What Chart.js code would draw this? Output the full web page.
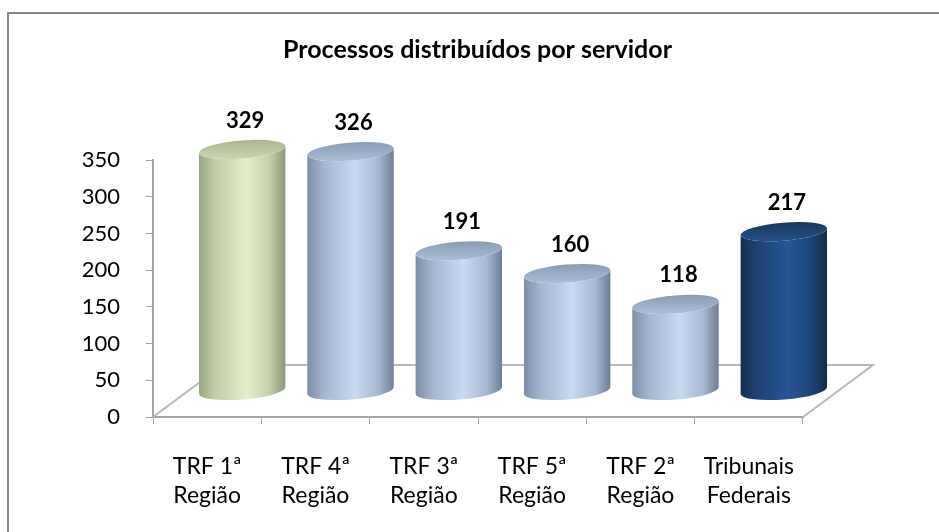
<!DOCTYPE html>
<html>
<head>
<meta charset="utf-8">
<script src="https://cdn.jsdelivr.net/npm/chart.js@4/dist/chart.umd.min.js"></script>
<style>
html,body{margin:0;padding:0;background:#fff;}
canvas{display:block;}
</style>
</head>
<body>
<canvas id="c" width="939" height="532"></canvas>
<script>
const titleText = 'Processos distribuídos por servidor';
const categories = [['TRF 1ª','Região'],['TRF 4ª','Região'],['TRF 3ª','Região'],['TRF 5ª','Região'],['TRF 2ª','Região'],['Tribunais','Federais']];
const values = [329, 326, 191, 160, 118, 217];
const yTicks = [0, 50, 100, 150, 200, 250, 300, 350];

const palettes = {
  green: {body:['#99a57f','#c1cda6','#e3efca','#c4d0aa','#8b9674'], top:['#aab78e','#c9d5ae']},
  light: {body:['#7c8da8','#a1b3cd','#c8dbf3','#a7b9d2','#6c7c95'], top:['#8a9db8','#aabdd7']},
  dark:  {body:['#132e4e','#1c4272','#265596','#1d4477','#112a48'], top:['#1a375d','#25508a']}
};
const barPalette = ['green','light','light','light','light','dark'];

const DEPTH_X = 70, DEPTH_Y = -52;
const AXIS_GRAY = '#a6a6a6';

const cylPlugin = {
  id: 'cyl',
  beforeDraw(chart) {
    const ctx = chart.ctx;
    ctx.save();
    ctx.strokeStyle = '#868686';
    ctx.lineWidth = 2;
    ctx.strokeRect(8, 13, 1200, 1200);
    ctx.restore();
  },
  beforeDatasetsDraw(chart) {
    const ctx = chart.ctx;
    const a = chart.chartArea;
    const y0 = chart.scales.y.getPixelForValue(0);
    ctx.save();
    ctx.strokeStyle = '#b8b8b8';
    ctx.lineWidth = 2;
    ctx.beginPath();
    ctx.moveTo(a.left, y0);
    ctx.lineTo(a.left + DEPTH_X, y0 + DEPTH_Y);
    ctx.lineTo(a.right + DEPTH_X, y0 + DEPTH_Y);
    ctx.lineTo(a.right, y0);
    ctx.stroke();
    ctx.restore();
  },
  afterDatasetsDraw(chart) {
    const ctx = chart.ctx;
    const meta = chart.getDatasetMeta(0);
    const hx = DEPTH_X / 2, hy = DEPTH_Y / 2;
    const ry = 9, rot = -0.08;
    meta.data.forEach((bar, i) => {
      const p = bar.getProps(['x','y','base','width'], true);
      const pal = palettes[barPalette[i]];
      const cx = p.x + hx, topY = p.y + hy, baseY = p.base + hy, rx = p.width / 2;
      ctx.save();
      const g = ctx.createLinearGradient(cx - rx, 0, cx + rx, 0);
      const st = [0, 0.18, 0.55, 0.82, 1];
      st.forEach((s, k) => g.addColorStop(s, pal.body[k]));
      ctx.fillStyle = g;
      ctx.beginPath();
      const ca = Math.cos(rot), sa = Math.sin(rot);
      ctx.moveTo(cx + rx * ca, topY + rx * sa);
      ctx.lineTo(cx + rx * ca, baseY + rx * sa);
      ctx.ellipse(cx, baseY, rx, ry, rot, 0, Math.PI, false);
      ctx.lineTo(cx - rx * ca, topY - rx * sa);
      ctx.ellipse(cx, topY, rx, ry, rot, Math.PI, 0, true);
      ctx.closePath();
      ctx.fill();
      const tg = ctx.createLinearGradient(0, topY - ry, 0, topY + ry);
      tg.addColorStop(0, pal.top[0]);
      tg.addColorStop(1, pal.top[1]);
      ctx.fillStyle = tg;
      ctx.beginPath();
      ctx.ellipse(cx, topY, rx, ry, rot, 0, Math.PI * 2);
      ctx.fill();
      ctx.fillStyle = '#000';
      ctx.font = 'bold 22px Lato';
      ctx.textAlign = 'center';
      ctx.textBaseline = 'middle';
      ctx.fillText(String(values[i]), cx + 3, topY - 29);
      ctx.restore();
    });
  }
};

new Chart(document.getElementById('c'), {
  type: 'bar',
  data: {
    labels: categories,
    datasets: [{
      data: values,
      backgroundColor: 'rgba(0,0,0,0)',
      borderWidth: 0,
      barPercentage: 0.8,
      categoryPercentage: 1.0
    }]
  },
  options: {
    responsive: false,
    animation: false,
    devicePixelRatio: 1,
    layout: {padding: {top: 13, left: 16, right: 0, bottom: 0}},
    plugins: {
      legend: {display: false},
      tooltip: {enabled: false},
      title: {
        display: true,
        text: titleText,
        color: '#000',
        font: {family: 'Lato', size: 25, weight: 'bold', lineHeight: 1.2},
        padding: {top: 22, bottom: 95}
      }
    },
    scales: {
      x: {
        grid: {display: true, drawOnChartArea: false, drawTicks: true, tickLength: 7, color: AXIS_GRAY, offset: true},
        border: {display: true, color: AXIS_GRAY, width: 2},
        ticks: {color: '#000', font: {family: 'Lato', size: 23, lineHeight: 1.22}, padding: 29, maxRotation: 0, autoSkip: false},
        afterFit(s) { s.height = 115; }
      },
      y: {
        min: 0, max: 350,
        afterBuildTicks(s) { s.ticks = yTicks.map(v => ({value: v})); },
        grid: {display: true, drawOnChartArea: false, drawTicks: true, tickLength: 7, color: AXIS_GRAY},
        border: {display: true, color: AXIS_GRAY, width: 2},
        ticks: {color: '#000', font: {family: 'Lato', size: 22}, padding: 26},
        afterFit(s) { s.width = 137; }
      },
      yR: {
        position: 'right', display: true,
        grid: {display: false, drawTicks: false},
        border: {display: false},
        ticks: {display: false},
        afterFit(s) { s.width = 136; }
      }
    }
  },
  plugins: [cylPlugin]
});
</script>
</body>
</html>
